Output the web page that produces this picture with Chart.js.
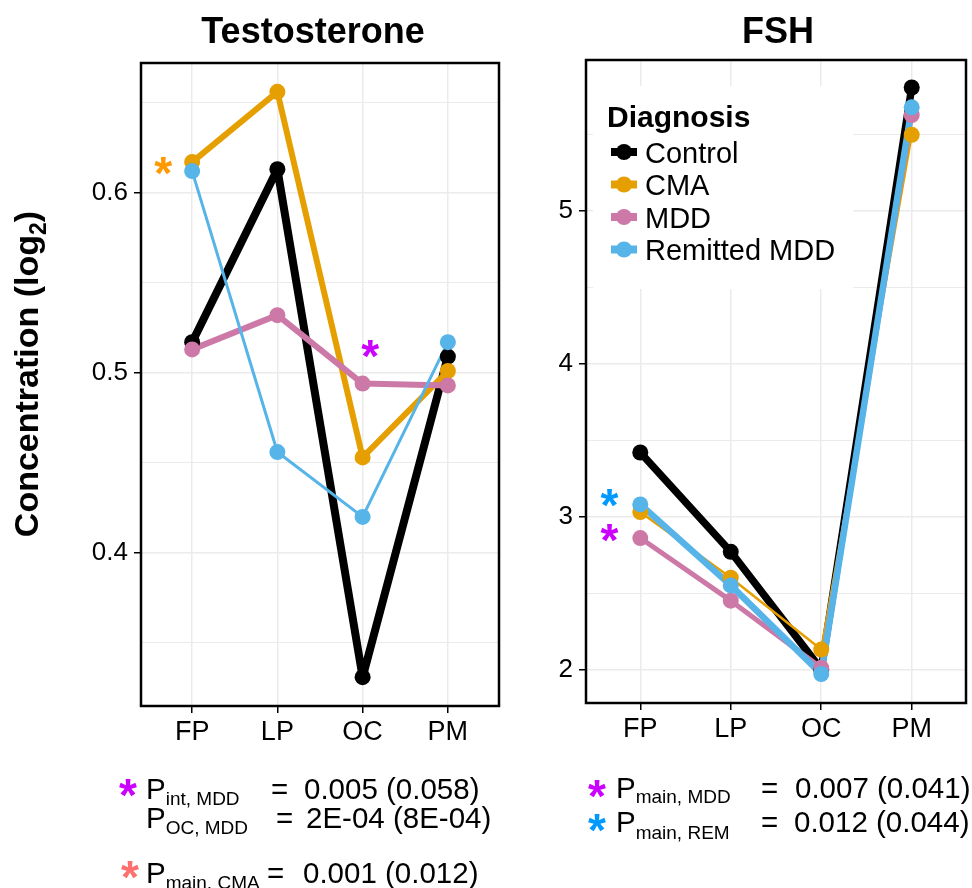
<!DOCTYPE html>
<html>
<head>
<meta charset="utf-8">
<script src="https://cdn.jsdelivr.net/npm/chart.js@4.4.1/dist/chart.umd.min.js"></script>
<style>
  body { margin: 0; background: #fff; }
  #page { position: relative; width: 972px; height: 888px; overflow: hidden; font-family: "Liberation Sans", Arial, sans-serif; }
  canvas { position: absolute; top: 0; }
  #overlay { position: absolute; left: 0; top: 0; pointer-events: none; }
</style>
</head>
<body>
<div id="page">
  <canvas id="testo" width="507" height="760" style="left:0"></canvas>
  <canvas id="fsh" width="474" height="760" style="left:500px"></canvas>
  <svg id="overlay" width="972" height="888" font-family="Liberation Sans, Arial, sans-serif"></svg>
</div>
<script>
// cycle phases and diagnosis groups
const phases = ['FP', 'LP', 'OC', 'PM'];
const groups = ['Control', 'CMA', 'MDD', 'Remitted MDD'];
const groupColors = ['#000000', '#E69F00', '#CC79A7', '#56B4E9'];

// testosterone, log2 concentration
const testoControl = [0.517, 0.613, 0.331, 0.509];
const testoCMA = [0.617, 0.656, 0.453, 0.501];
const testoMDD = [0.513, 0.532, 0.494, 0.493];
const testoRemitted = [0.612, 0.456, 0.420, 0.517];

// FSH, log2 concentration
const fshControl = [3.42, 2.77, 2.00, 5.81];
const fshCMA = [3.03, 2.60, 2.13, 5.50];
const fshMDD = [2.86, 2.45, 2.01, 5.63];
const fshRemitted = [3.08, 2.55, 1.97, 5.68];

// y ticks (major get a label, minor only a grid line)
const testoTicks = [0.4, 0.5, 0.6];
const testoMinor = [0.35, 0.45, 0.55, 0.65];
const fshTicks = [2, 3, 4, 5];
const fshMinor = [2.5, 3.5, 4.5, 5.5];

const FONT = '"Liberation Sans", Arial, sans-serif';
const GRID = '#EBEBEB';
const STAR = 46;

function makeDatasets(series, widths) {
    const lines = series.map((vals, i) => ({
        label: groups[i],
        data: vals.map((v, j) => ({ x: j, y: v })),
        borderColor: groupColors[i],
        borderWidth: widths[i],
        borderJoinStyle: 'round',
        borderCapStyle: 'round',
        pointRadius: 0,
        order: 20 - i
    }));
    const dots = series.map((vals, i) => ({
        label: groups[i],
        data: vals.map((v, j) => ({ x: j, y: v })),
        showLine: false,
        pointRadius: 8,
        pointBorderWidth: 0,
        pointBackgroundColor: groupColors[i],
        order: 10 - i
    }));
    return lines.concat(dots);
}

// panel border drawn on top of the grid
const framePlugin = {
    id: 'frame',
    afterDraw(chart) {
        const { ctx, chartArea: a } = chart;
        ctx.save();
        ctx.strokeStyle = '#000';
        ctx.lineWidth = 2.5;
        ctx.strokeRect(a.left, a.top, a.right - a.left, a.bottom - a.top);
        ctx.restore();
    }
};

// significance stars placed in data units
function starPlugin(marks) {
    return {
        id: 'stars',
        afterDatasetsDraw(chart) {
            const { ctx, scales: { x, y } } = chart;
            ctx.save();
            ctx.font = `bold ${STAR}px ${FONT}`;
            ctx.textAlign = 'center';
            ctx.textBaseline = 'alphabetic';
            marks.forEach(m => {
                ctx.fillStyle = m.color;
                ctx.fillText('*', x.getPixelForValue(m.x), y.getPixelForValue(m.y) + 0.49 * STAR);
            });
            ctx.restore();
        }
    };
}

function isMajor(major, v) {
    return major.some(t => Math.abs(t - v) < 1e-9);
}

function makeChart(id, series, widths, yRange, major, minor, box, marks) {
    const allTicks = major.concat(minor).sort((a, b) => a - b);
    return new Chart(document.getElementById(id), {
        type: 'line',
        data: { datasets: makeDatasets(series, widths) },
        options: {
            responsive: false,
            animation: false,
            layout: { padding: { top: box.top, right: box.right, left: 0, bottom: 0 } },
            plugins: { legend: { display: false }, tooltip: { enabled: false }, title: { display: false } },
            scales: {
                x: {
                    type: 'linear',
                    min: -0.6,
                    max: 3.6,
                    afterBuildTicks: s => { s.ticks = phases.map((_, i) => ({ value: i })); },
                    afterFit: s => { s.height = box.xHeight; },
                    ticks: {
                        autoSkip: false,
                        maxRotation: 0,
                        padding: 3,
                        color: '#000',
                        font: { family: FONT, size: 27 },
                        callback: v => phases[v]
                    },
                    grid: { color: GRID, lineWidth: 1.5, tickColor: '#000', tickLength: 7, tickWidth: 1.5 },
                    border: { display: false }
                },
                y: {
                    type: 'linear',
                    min: yRange[0],
                    max: yRange[1],
                    afterBuildTicks: s => { s.ticks = allTicks.map(v => ({ value: v })); },
                    afterFit: s => { s.width = box.yWidth; },
                    ticks: {
                        autoSkip: false,
                        padding: 6,
                        color: '#000',
                        font: { family: FONT, size: 26 },
                        callback: v => isMajor(major, v) ? String(v) : ''
                    },
                    grid: {
                        color: GRID,
                        lineWidth: c => isMajor(major, c.tick.value) ? 1.5 : 1,
                        tickColor: c => isMajor(major, c.tick.value) ? '#000' : 'rgba(0,0,0,0)',
                        tickLength: 7,
                        tickWidth: 1.5
                    },
                    border: { display: false }
                }
            }
        },
        plugins: [framePlugin, starPlugin(marks)]
    });
}

makeChart('testo',
    [testoControl, testoCMA, testoMDD, testoRemitted],
    [8, 6, 6, 3],
    [0.315, 0.672], testoTicks, testoMinor,
    { top: 63, right: 1, yWidth: 141, xHeight: 54 },
    [{ x: -0.34, y: 0.6145, color: '#FF9900' }, { x: 2.09, y: 0.5128, color: '#CC00FF' }]);

makeChart('fsh',
    [fshControl, fshCMA, fshMDD, fshRemitted],
    [7.5, 2.5, 5, 6.5],
    [1.78, 5.99], fshTicks, fshMinor,
    { top: 60, right: 0, yWidth: 86, xHeight: 57 },
    [{ x: -0.34, y: 3.12, color: '#0099FF' }, { x: -0.34, y: 2.89, color: '#CC00FF' }]);

// titles, axis label, legend and p-value notes
const svg = document.getElementById('overlay');
const NS = 'http://www.w3.org/2000/svg';
function el(tag, attrs, parent) {
    const e = document.createElementNS(NS, tag);
    Object.entries(attrs).forEach(([k, v]) => e.setAttribute(k, v));
    (parent || svg).appendChild(e);
    return e;
}
function text(str, x, y, attrs) {
    const t = el('text', Object.assign({ x, y, 'font-size': 28, fill: '#000' }, attrs || {}));
    t.textContent = str;
    return t;
}

text('Testosterone', 313, 43, { 'font-size': 36, 'font-weight': 'bold', 'text-anchor': 'middle' });
text('FSH', 778, 43, { 'font-size': 36, 'font-weight': 'bold', 'text-anchor': 'middle' });

const yTitle = el('text', { transform: 'translate(38,374) rotate(-90)', 'text-anchor': 'middle', 'font-size': 34, 'font-weight': 'bold' });
yTitle.appendChild(document.createTextNode('Concentration (log'));
const sub2 = el('tspan', { dy: 8, 'font-size': 23 }, yTitle);
sub2.textContent = '2';
const close = el('tspan', { dy: -8 }, yTitle);
close.textContent = ')';

// legend inside the FSH panel
el('rect', { x: 593, y: 86, width: 260, height: 203, fill: '#fff' });
text('Diagnosis', 607, 127, { 'font-weight': 'bold', 'font-size': 30 });
groups.forEach((g, i) => {
    const cy = 152 + i * 32.5;
    el('line', { x1: 611, x2: 637, y1: cy, y2: cy, stroke: groupColors[i], 'stroke-width': 8 });
    el('circle', { cx: 624, cy, r: 8, fill: groupColors[i] });
    text(g, 645, cy + 10.5, { 'font-size': 29 });
});

function pLine(star, x, base, sub, subDy, eqX, value, valX) {
    if (star) {
        text('*', star.x, star.cy + 0.49 * STAR,
            { 'font-size': STAR, 'font-weight': 'bold', fill: star.color, 'text-anchor': 'middle' });
    }
    const t = text('P', x, base, { 'font-size': 29.5 });
    const s = el('tspan', { dy: subDy, 'font-size': 19 }, t);
    s.textContent = sub;
    text('=', eqX, base, { 'font-size': 29.5 });
    text(value, valX, base, { 'font-size': 29.5 });
}

pLine({ x: 128, cy: 788, color: '#CC00FF' }, 146, 799, 'int, MDD', 6, 271, '0.005 (0.058)', 304);
pLine(null, 146, 828, 'OC, MDD', 6, 276, '2E-04 (8E-04)', 306);
pLine({ x: 130, cy: 870, color: '#FF7070' }, 146, 883, 'main, CMA', 6, 267, '0.001 (0.012)', 303);
pLine({ x: 597, cy: 789, color: '#CC00FF' }, 616, 798, 'main, MDD', 5, 761, '0.007 (0.041)', 795);
pLine({ x: 597, cy: 823, color: '#0099FF' }, 616, 832, 'main, REM', 7, 761, '0.012 (0.044)', 794);
</script>
</body>
</html>
